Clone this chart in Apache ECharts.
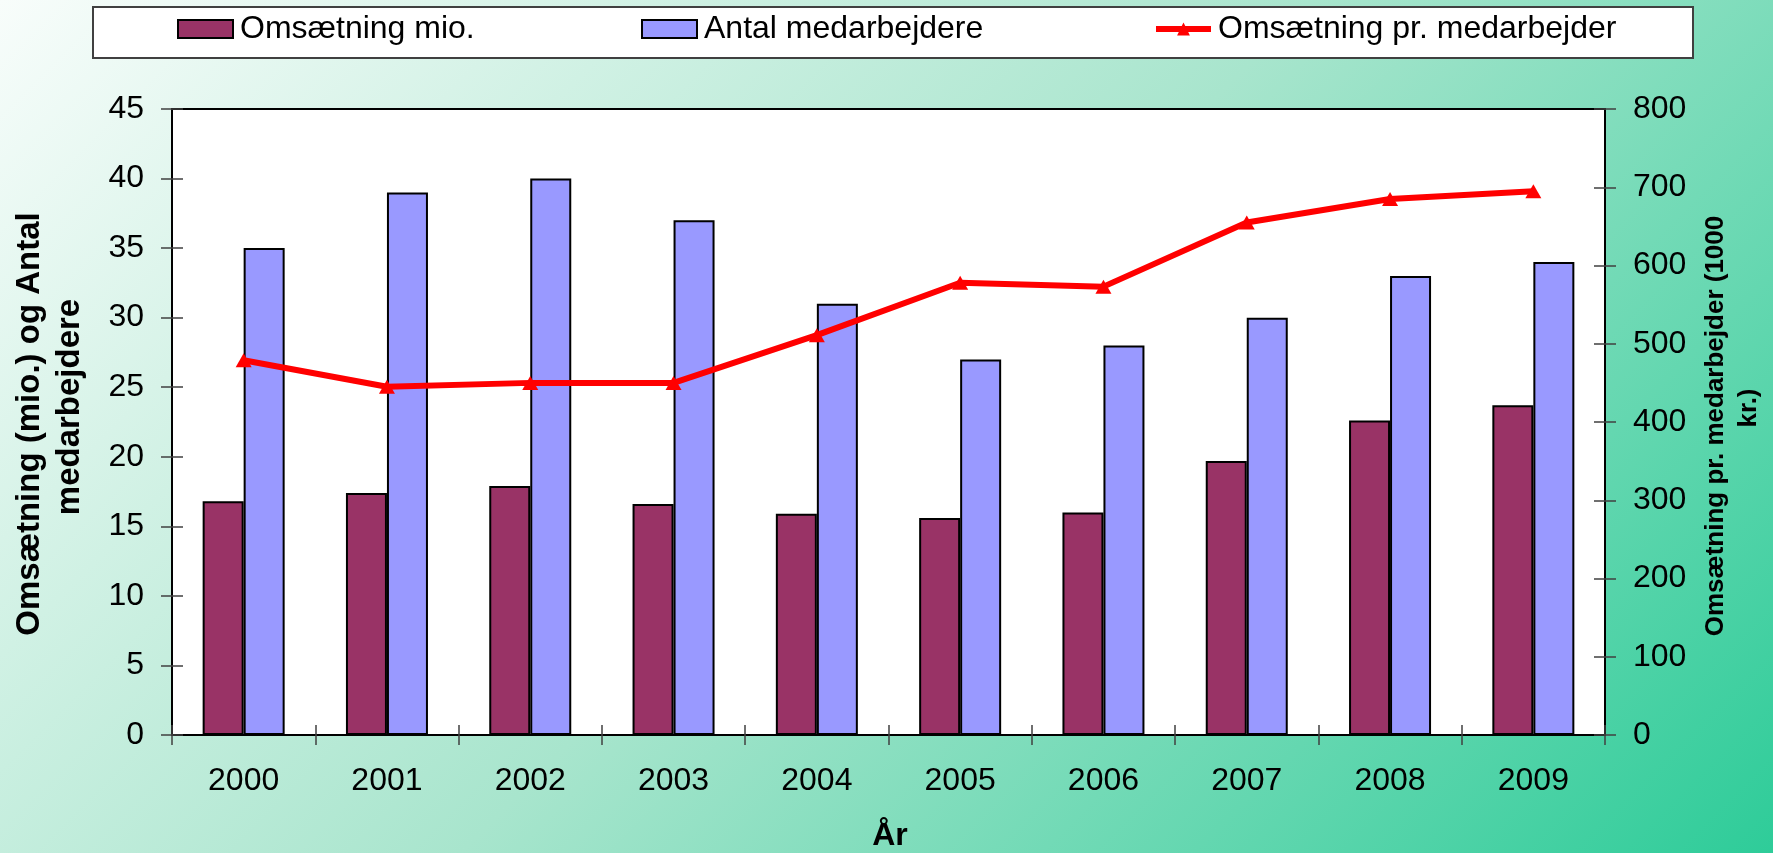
<!DOCTYPE html>
<html>
<head>
<meta charset="utf-8">
<script src="https://cdn.jsdelivr.net/npm/echarts@6/dist/echarts.min.js"></script>
<style>
html,body{margin:0;padding:0;}
#c{width:1773px;height:853px;}
</style>
</head>
<body>
<div id="c"></div>
<script>
var years = ['2000','2001','2002','2003','2004','2005','2006','2007','2008','2009'];
var omsaetning = [16.8, 17.4, 17.9, 16.6, 15.9, 15.6, 16.0, 19.7, 22.6, 23.7];
var antal = [35, 39, 40, 37, 31, 27, 28, 30, 33, 34];
var prMedarbejder = [479, 445, 450, 450, 511, 578, 573, 655, 685, 695];
var leftAxisRange = [0, 45, 5];
var rightAxisRange = [0, 800, 100];
var seriesNames = ['Omsætning mio.', 'Antal medarbejdere', 'Omsætning pr. medarbejder'];

var FONT = "'Liberation Sans', Arial, sans-serif";
var chart = echarts.init(document.getElementById('c'));

function yAx(range, pos, inside, primary) {
  return {
    type: 'value', position: pos, min: range[0], max: range[1], interval: range[2],
    axisLine: { show: primary, lineStyle: { color: '#000', width: 2 } },
    axisTick: { show: true, inside: inside, length: 11, lineStyle: { color: '#404040', width: 1.5 } },
    axisLabel: { show: primary, fontSize: 32, color: '#000', fontFamily: FONT, margin: 28 },
    splitLine: { show: false }
  };
}
function xAx(inside, primary) {
  return {
    type: 'category', position: 'bottom', data: years,
    axisLine: { show: primary, lineStyle: { color: '#000', width: 2 } },
    axisTick: { show: true, inside: inside, length: 10, lineStyle: { color: '#404040', width: 1.5 } },
    axisLabel: { show: primary, fontSize: 32, color: '#000', fontFamily: FONT, margin: 30 },
    splitLine: { show: false }
  };
}
function legendAt(name, left) {
  var isLine = name === seriesNames[2];
  var l = {
    data: [name], left: left, top: 13, padding: 0, itemWidth: 55, itemHeight: 18, z: 10,
    textStyle: { fontSize: 32, color: '#000', fontFamily: FONT, padding: [0, 0, 0, 2] }
  };
  if (isLine) {
    l.itemHeight = 16;
    l.lineStyle = { color: '#ff0000', width: 6 };
  } else {
    l.icon = 'rect';
  }
  return l;
}

var option = {
  backgroundColor: {
    type: 'linear', x: 0, y: 0, x2: 1313, y2: 1313, global: true,
    colorStops: [
      { offset: 0, color: '#f8fdfb' },
      { offset: 0.5, color: '#a8e5cd' },
      { offset: 1, color: '#2ecc99' }
    ]
  },
  animation: false,
  grid: { left: 172, right: 168, top: 109, bottom: 118, show: true, backgroundColor: '#fff', borderColor: '#000', borderWidth: 2 },
  legend: [
    legendAt(seriesNames[0], 177),
    legendAt(seriesNames[1], 641),
    legendAt(seriesNames[2], 1153)
  ],
  xAxis: [xAx(false, true), xAx(true, false)],
  yAxis: [yAx(leftAxisRange, 'left', false, true), yAx(rightAxisRange, 'right', false, true),
          yAx(leftAxisRange, 'left', true, false), yAx(rightAxisRange, 'right', true, false)],
  graphic: [
    { type: 'rect', left: 92, top: 6, z: 1, shape: { width: 1600, height: 51 },
      style: { fill: '#fff', stroke: '#404040', lineWidth: 2 } },
    { type: 'text', x: 29.5, y: 424, rotation: Math.PI / 2,
      style: { text: 'Omsætning (mio.) og Antal', font: "bold 33px " + FONT, fill: '#000', align: 'center', verticalAlign: 'middle' } },
    { type: 'text', x: 69.5, y: 407, rotation: Math.PI / 2,
      style: { text: 'medarbejdere', font: "bold 33px " + FONT, fill: '#000', align: 'center', verticalAlign: 'middle' } },
    { type: 'text', x: 1716, y: 426, rotation: Math.PI / 2,
      style: { text: 'Omsætning pr. medarbejder (1000', font: "bold 26px " + FONT, fill: '#000', align: 'center', verticalAlign: 'middle' } },
    { type: 'text', x: 1749, y: 408, rotation: Math.PI / 2,
      style: { text: 'kr.)', font: "bold 26px " + FONT, fill: '#000', align: 'center', verticalAlign: 'middle' } },
    { type: 'text', x: 890, y: 836,
      style: { text: 'År', font: "bold 32px " + FONT, fill: '#000', align: 'center', verticalAlign: 'middle' } }
  ],
  series: [
    { name: seriesNames[0], type: 'bar', xAxisIndex: 0, yAxisIndex: 0, data: omsaetning,
      barWidth: 41, barGap: '0%', itemStyle: { color: '#993366', borderColor: '#000', borderWidth: 2 } },
    { name: seriesNames[1], type: 'bar', xAxisIndex: 0, yAxisIndex: 0, data: antal,
      barWidth: 41, barGap: '0%', itemStyle: { color: '#9999ff', borderColor: '#000', borderWidth: 2 } },
    { name: seriesNames[2], type: 'line', xAxisIndex: 0, yAxisIndex: 1, data: prMedarbejder, z: 5,
      symbol: 'triangle', symbolSize: [16, 14], showAllSymbol: true,
      lineStyle: { color: '#ff0000', width: 6 }, itemStyle: { color: '#ff0000' } }
  ]
};
chart.setOption(option);
</script>
</body>
</html>
